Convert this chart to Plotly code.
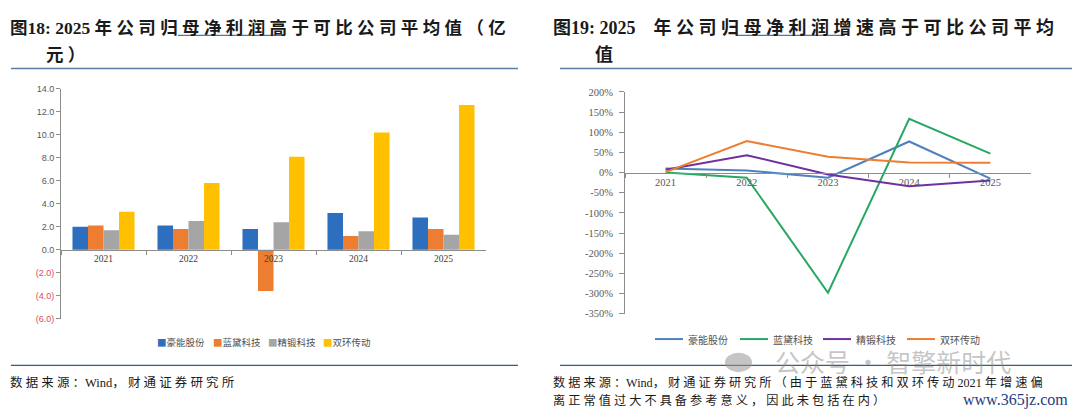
import re
import plotly.graph_objects as go

W, H = 1080, 412

years = ['2021', '2022', '2023', '2024', '2025']
companies = ['豪能股份', '蓝黛科技', '精锻科技', '双环传动']

# 归母净利润（亿元）
profit_haoneng = [2.0, 2.1, 1.8, 3.2, 2.8]
profit_landai = [2.1, 1.8, -3.6, 1.2, 1.8]
profit_jingduan = [1.7, 2.5, 2.4, 1.6, 1.3]
profit_shuanghuan = [3.3, 5.8, 8.1, 10.2, 12.6]

# 归母净利润增速（%）
growth_haoneng = [10, 5, -13, 77, -15]
growth_landai = [0, -13, -298, 133, 47]
growth_jingduan = [7, 43, -5, -34, -20]
growth_shuanghuan = [1, 78, 39, 25, 24]

profit_ticks = [14, 12, 10, 8, 6, 4, 2, 0, -2, -4, -6]
growth_ticks = [200, 150, 100, 50, 0, -50, -100, -150, -200, -250, -300, -350]

bar_colors = ['#2E6EBF', '#ED7D31', '#A5A5A5', '#FFC000']
line_colors = ['#4F81BD', '#27A862', '#7030A0', '#ED7D31']

SERIF_CJK = '"Liberation Serif", "Noto Sans CJK SC"'


def px_x(v):
    return v / W


def px_y(v):
    return 1 - v / H


def spread(s):
    # 中文字符之间加空格，模拟原图的字距
    return re.sub(r'(?<=[\u3000-\u9fff\uff00-\uffef])(?=[\u3000-\u9fff\uff00-\uffef])', ' ', s)


def tick_label(v):
    if v < 0:
        return '<span style="color:#E0485A">(%.1f)</span>' % abs(v)
    return '%.1f' % v


fig = go.Figure()

profits = [profit_haoneng, profit_landai, profit_jingduan, profit_shuanghuan]
for name, vals, c in zip(companies, profits, bar_colors):
    fig.add_trace(go.Bar(x=years, y=vals, name=name, marker_color=c,
                         marker_line_width=0, xaxis='x', yaxis='y', showlegend=False))

growths = [growth_haoneng, growth_landai, growth_jingduan, growth_shuanghuan]
for name, vals, c in zip(companies, growths, line_colors):
    fig.add_trace(go.Scatter(x=years, y=vals, name=name, mode='lines',
                             line=dict(color=c, width=2), xaxis='x2', yaxis='y2',
                             showlegend=False))

# 左图坐标区域
l_dom_x = [px_x(53), px_x(478)]
l_dom_y = [px_y(314), px_y(78)]
l_range = [-6, 14]
l_zero = l_dom_y[0] + (0 - l_range[0]) / (l_range[1] - l_range[0]) * (l_dom_y[1] - l_dom_y[0])

# 右图坐标区域
r_dom_x = [px_x(617), px_x(1023)]
r_dom_y = [px_y(309), px_y(81)]
r_range = [-350, 200]
r_zero = r_dom_y[0] + (0 - r_range[0]) / (r_range[1] - r_range[0]) * (r_dom_y[1] - r_dom_y[0])

axis_col = '#8C8C8C'

fig.update_layout(
    width=W, height=H,
    margin=dict(l=0, r=0, t=0, b=0),
    paper_bgcolor='white', plot_bgcolor='white',
    barmode='group', bargap=0.27, bargroupgap=0,
    showlegend=False,
    xaxis=dict(domain=l_dom_x, anchor='free', position=l_zero, type='category',
               range=[-0.5, 4.5], showline=True, linecolor=axis_col, linewidth=1,
               ticks='outside', tickson='boundaries', ticklen=4, tickcolor=axis_col,
               tickfont=dict(family='"Liberation Serif"', size=9.5, color='#404040'),
               showgrid=False, zeroline=False),
    yaxis=dict(domain=l_dom_y, anchor='x', range=l_range, tickvals=profit_ticks,
               ticktext=[tick_label(v) for v in profit_ticks],
               showline=True, linecolor=axis_col, linewidth=1, ticks='outside',
               ticklen=4, tickcolor=axis_col,
               tickfont=dict(family='"Liberation Sans", Arial', size=9, color='#595959'),
               showgrid=False, zeroline=False),
    xaxis2=dict(domain=r_dom_x, anchor='free', position=r_zero, type='category',
                range=[-0.5, 4.5], showline=True, linecolor=axis_col, linewidth=1,
                ticks='outside', tickson='boundaries', ticklen=4, tickcolor=axis_col,
                tickfont=dict(family='"Liberation Serif"', size=10.5, color='#595959'),
                showgrid=False, zeroline=False),
    yaxis2=dict(domain=r_dom_y, anchor='x2', range=r_range, tickvals=growth_ticks,
                ticktext=['%d%%' % v for v in growth_ticks],
                showline=True, linecolor=axis_col, linewidth=1, ticks='outside',
                ticklen=5, tickcolor=axis_col, ticklabelstandoff=4,
                tickfont=dict(family='"Liberation Serif"', size=10.5, color='#595959'),
                showgrid=False, zeroline=False),
)

rule_col = '#5A7FA3'
shapes = [
    # 标题下横线
    dict(x0=3, x1=510, y0=57, y1=57, color=rule_col, width=1.5),
    dict(x0=552, x1=1075, y0=57, y1=57, color=rule_col, width=1.5),
    # 来源上横线
    dict(x0=3, x1=510, y0=362, y1=362, color='#3E5C7A', width=1.2),
    dict(x0=552, x1=1075, y0=362, y1=362, color='#3E5C7A', width=1.2),
    # 标题下划线
    dict(x0=170, x1=277, y0=23, y1=23, color='#4A78B0', width=1.2),
    dict(x0=728, x1=837, y0=23, y1=23, color='#4A78B0', width=1.2),
]
for s in shapes:
    fig.add_shape(type='line', xref='paper', yref='paper',
                  x0=px_x(s['x0']), x1=px_x(s['x1']), y0=px_y(s['y0']), y1=px_y(s['y1']),
                  line=dict(color=s['color'], width=s['width']))

# 左图图例（小方块 + 文字）
legend_x = [147, 203, 258, 313]
for name, c, x in zip(companies, bar_colors, legend_x):
    fig.add_annotation(text='<span style="color:%s">■</span>%s' % (c, name),
                       xref='paper', yref='paper', x=px_x(x), y=px_y(338),
                       xanchor='left', yanchor='middle', showarrow=False,
                       font=dict(family='"Noto Sans CJK SC"', size=9.5, color='#505050'))

# 右图图例（线段 + 文字）
legend2_x = [647, 732, 815, 899]
for name, c, x in zip(companies, line_colors, legend2_x):
    fig.add_shape(type='line', xref='paper', yref='paper',
                  x0=px_x(x), x1=px_x(x + 28), y0=px_y(335), y1=px_y(335),
                  line=dict(color=c, width=2))
    fig.add_annotation(text=name, xref='paper', yref='paper',
                       x=px_x(x + 31), y=px_y(335), xanchor='left', yanchor='middle',
                       showarrow=False,
                       font=dict(family='"Noto Sans CJK SC"', size=10, color='#505050'))

texts = [
    # (text, x, y, size, bold, color, family)
    ('图18: 2025 年公司归母净利润高于可比公司平均值（亿', 0, 15, 17.5, True, '#1A1A1A', SERIF_CJK),
    ('元）', 36, 43, 17.5, True, '#1A1A1A', SERIF_CJK),
    ('图19: 2025\u00a0\u00a0\u00a0\u00a0年公司归母净利润增速高于可比公司平均', 543, 15, 18, True, '#1A1A1A', SERIF_CJK),
    ('值', 585, 43, 18, True, '#1A1A1A', SERIF_CJK),
    ('数据来源：Wind，财通证券研究所', 0, 380, 12.5, False, '#1A1A1A', SERIF_CJK),
    ('数据来源：Wind，财通证券研究所（由于蓝黛科技和双环传动 2021 年增速偏', 543, 380, 12.2, False, '#1A1A1A', SERIF_CJK),
    ('离正常值过大不具备参考意义，因此未包括在内）', 543, 398, 12.2, False, '#1A1A1A', SERIF_CJK),
]
for t, x, y, size, bold, col, fam in texts:
    txt = spread(t)
    if bold:
        txt = '<b>' + txt + '</b>'
    fig.add_annotation(text=txt, xref='paper', yref='paper', x=px_x(x), y=px_y(y),
                       xanchor='left', yanchor='middle', showarrow=False,
                       font=dict(family=fam, size=size, color=col))

# 水印
fig.add_shape(type='circle', xref='paper', yref='paper',
              x0=px_x(717), x1=px_x(744), y0=px_y(369), y1=px_y(349),
              fillcolor='rgba(150,150,150,0.55)', line=dict(width=0))
fig.add_annotation(text='公众号 · 智擎新时代', xref='paper', yref='paper',
                   x=px_x(765), y=px_y(358), xanchor='left', yanchor='middle',
                   showarrow=False,
                   font=dict(family='"Noto Sans CJK SC"', size=25, color='rgba(140,140,140,0.5)'))
fig.add_annotation(text='www.365jz.com', xref='paper', yref='paper',
                   x=px_x(1062), y=px_y(398), xanchor='right', yanchor='middle',
                   showarrow=False,
                   font=dict(family='"Liberation Serif"', size=16, color='#1F3C80'))

fig.write_html('out.html')
